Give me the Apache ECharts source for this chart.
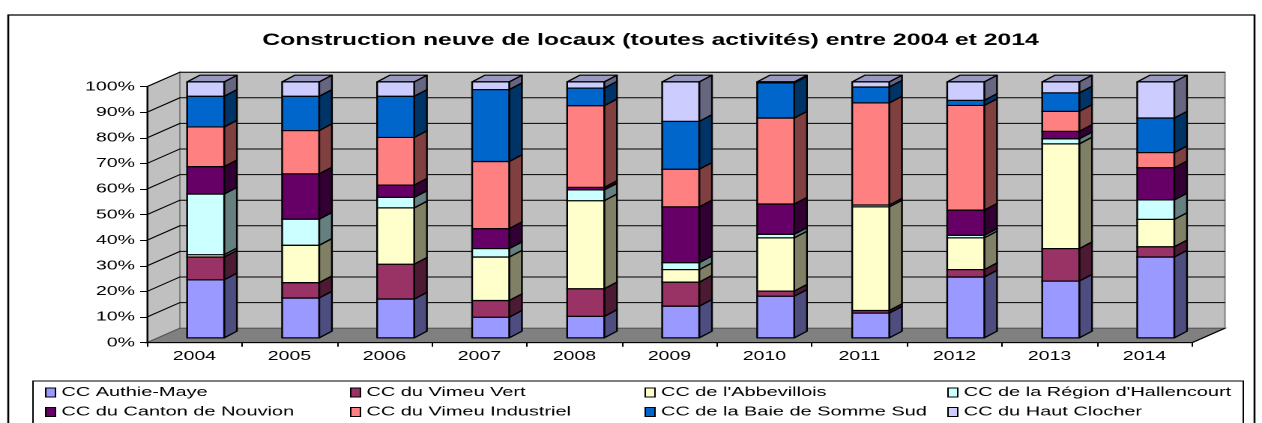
<!DOCTYPE html>
<html>
<head>
<meta charset="utf-8">
<title>Construction neuve de locaux</title>
<script src="https://cdn.jsdelivr.net/npm/echarts@6/dist/echarts.min.js"></script>
<style>
html,body{margin:0;padding:0;background:#fff;overflow:hidden;}
/* l'image d'origine est étirée horizontalement : on dessine en 842px puis on étire */
#chart{width:842px;height:423px;transform:scaleX(1.49881);transform-origin:0 0;}
</style>
</head>
<body>
<div id="chart"></div>
<script>
// données (% de la surface construite par année)
var years = ['2004','2005','2006','2007','2008','2009','2010','2011','2012','2013','2014'];
var authieMaye      = [22.7, 15.6, 15.2,  8.1,  8.4, 12.4, 16.3,  9.7, 23.8, 22.2, 31.6];
var vimeuVert       = [ 8.9,  6.0, 13.6,  6.5, 10.8,  9.4,  2.0,  1.0,  2.9, 12.7,  4.0];
var abbevillois     = [ 0.9, 14.6, 22.0, 17.0, 34.4,  4.9, 20.8, 40.5, 12.4, 40.9, 10.7];
var hallencourt     = [23.7, 10.2,  4.1,  3.3,  4.2,  2.7,  1.4,  0.7,  1.0,  2.0,  7.6];
var nouvion         = [10.7, 17.7,  4.8,  7.8,  1.0, 21.8, 11.8,  0.0,  9.8,  2.9, 12.6];
var vimeuIndustriel = [15.5, 16.9, 18.6, 26.2, 31.9, 14.7, 33.6, 39.9, 40.9,  7.8,  5.9];
var baieSommeSud    = [12.0, 13.4, 16.1, 28.1,  6.9, 18.7, 13.7,  6.2,  2.0,  7.2, 13.5];
var hautClocher     = [ 5.6,  5.6,  5.6,  3.0,  2.4, 15.4,  0.4,  2.0,  7.2,  4.3, 14.1];

var names = ['CC Authie-Maye','CC du Vimeu Vert',"CC de l'Abbevillois","CC de la Région d'Hallencourt",
             'CC du Canton de Nouvion','CC du Vimeu Industriel','CC de la Baie de Somme Sud','CC du Haut Clocher'];
var values = [authieMaye, vimeuVert, abbevillois, hallencourt, nouvion, vimeuIndustriel, baieSommeSud, hautClocher];
var colors = ['#9999FF','#993366','#FFFFCC','#CCFFFF','#660066','#FF8080','#0066CC','#CCCCFF'];
var yTicks = [0,10,20,30,40,50,60,70,80,90,100];

var FONT = "'Liberation Sans', Arial, sans-serif";
// décalages de la perspective 3D
var WALL_DX = 22, WALL_DY = 14.5;   // mur du fond
var FACE_DX = 7.5, FACE_DY = 4.8;   // face avant des barres
var BAR_DX = 8.5, BAR_DY = 6.7;     // profondeur des barres
var BAR_W = 0.39;

function shade(hex, f) {
    var n = parseInt(hex.slice(1), 16);
    var r = Math.round(((n >> 16) & 255) * f), g = Math.round(((n >> 8) & 255) * f), b = Math.round((n & 255) * f);
    return 'rgb(' + r + ',' + g + ',' + b + ')';
}

// empilement en 100%
var totals = years.map(function (y, k) {
    var t = 0;
    for (var i = 0; i < values.length; i++) t += values[i][k];
    return t;
});
var bases = years.map(function () { return 0; });
var stacked = values.map(function (arr) {
    return arr.map(function (v, k) {
        var p = v / totals[k] * 100;
        var item = [k, bases[k], bases[k] + p];
        bases[k] += p;
        return item;
    });
});

var myChart = echarts.init(document.getElementById('chart'), null, {devicePixelRatio: 2});

function renderWalls(params, api) {
    var cs = params.coordSys;
    var x0 = cs.x, x1 = cs.x + cs.width, yTop = cs.y, yBot = cs.y + cs.height;
    var children = [];
    children.push({type: 'polygon', shape: {points: [[x0, yTop], [x0 + WALL_DX, yTop - WALL_DY], [x0 + WALL_DX, yBot - WALL_DY], [x0, yBot]]},
        style: {fill: '#C0C0C0', stroke: '#808080', lineWidth: 1}});
    children.push({type: 'rect', shape: {x: x0 + WALL_DX, y: yTop - WALL_DY, width: cs.width, height: cs.height},
        style: {fill: '#C0C0C0', stroke: '#808080', lineWidth: 1}});
    children.push({type: 'polygon', shape: {points: [[x0, yBot], [x0 + WALL_DX, yBot - WALL_DY], [x1 + WALL_DX, yBot - WALL_DY], [x1, yBot]]},
        style: {fill: '#808080', stroke: '#555', lineWidth: 1}});
    children.push({type: 'line', shape: {x1: x1, y1: yBot, x2: x1 + WALL_DX, y2: yBot - WALL_DY}, style: {stroke: '#000', lineWidth: 1}});
    for (var i = 1; i < yTicks.length; i++) {
        var y = api.coord([0, yTicks[i]])[1];
        children.push({type: 'polyline', shape: {points: [[x0, y], [x0 + WALL_DX, y - WALL_DY], [x1 + WALL_DX, y - WALL_DY]]},
            style: {stroke: '#000', lineWidth: 1, fill: null}});
    }
    return {type: 'group', children: children};
}

function makeBarRenderer(color) {
    var side = shade(color, 0.5), top = shade(color, 0.75);
    return function (params, api) {
        var b = api.value(1), t = api.value(2);
        if (t - b <= 0) return;
        var p0 = api.coord([api.value(0), b]);
        var p1 = api.coord([api.value(0), t]);
        var w = api.size([1, 0])[0] * BAR_W;
        var cx = p0[0] + FACE_DX;
        var yb = p0[1] - FACE_DY, yt = p1[1] - FACE_DY;
        var xl = cx - w / 2, xr = cx + w / 2;
        var line = {stroke: '#000', lineWidth: 1.2, lineJoin: 'round'};
        return {type: 'group', children: [
            {type: 'polygon', shape: {points: [[xr, yt], [xr + BAR_DX, yt - BAR_DY], [xr + BAR_DX, yb - BAR_DY], [xr, yb]]},
                style: echarts.util.extend({fill: side}, line)},
            {type: 'polygon', shape: {points: [[xl, yt], [xl + BAR_DX, yt - BAR_DY], [xr + BAR_DX, yt - BAR_DY], [xr, yt]]},
                style: echarts.util.extend({fill: top}, line)},
            {type: 'rect', shape: {x: xl, y: yt, width: w, height: yb - yt},
                style: echarts.util.extend({fill: color}, line)}
        ]};
    };
}

var series = [{
    type: 'custom', name: 'murs', silent: true, z: 1,
    renderItem: renderWalls, data: [[0, 0]]
}];
for (var i = 0; i < names.length; i++) {
    series.push({
        type: 'custom', name: names[i], z: 2 + i,
        itemStyle: {color: colors[i]},
        encode: {x: 0, y: [1, 2]},
        renderItem: makeBarRenderer(colors[i]),
        data: stacked[i]
    });
}

var colLeft = [30, 233.5, 430, 632];
var rowTop = [386, 405.5];
var legends = names.map(function (n, i) {
    return {
        data: [n], left: colLeft[i % 4], top: rowTop[Math.floor(i / 4)],
        orient: 'horizontal', padding: 0, itemGap: 0,
        icon: 'rect', itemWidth: 6.5, itemHeight: 9,
        itemStyle: {borderColor: '#000', borderWidth: 1},
        selectedMode: false,
        textStyle: {fontFamily: FONT, fontSize: 13.3, color: '#000', padding: [0, 0, 0, -1]}
    };
});

var option = {
    backgroundColor: '#fff',
    animation: false,
    title: {
        text: 'Construction neuve de locaux (toutes activités) entre 2004 et 2014',
        left: 429, top: 27, textAlign: 'center',
        textStyle: {fontFamily: FONT, fontSize: 16.5, fontWeight: 'bold', color: '#000'}
    },
    graphic: [
        {type: 'rect', z: -10, shape: {x: 5.5, y: 15, width: 831.5, height: 500}, style: {fill: '#fff', stroke: '#000', lineWidth: 1.3}},
        {type: 'rect', z: -5, shape: {x: 22, y: 381, width: 807.5, height: 100}, style: {fill: '#fff', stroke: '#000', lineWidth: 1}}
    ],
    legend: legends,
    grid: {left: 98, right: 46.7, top: 86.7, bottom: 80.3, containLabel: false},
    xAxis: {
        type: 'category', data: years, boundaryGap: true, z: 10,
        axisLine: {lineStyle: {color: '#000', width: 1}},
        axisTick: {show: true, length: 4, lineStyle: {color: '#000'}},
        axisLabel: {fontFamily: FONT, fontSize: 13, color: '#000', margin: 7},
        splitLine: {show: false}
    },
    yAxis: {
        type: 'value', min: 0, max: 100, interval: 10, z: 10,
        axisLine: {show: true, lineStyle: {color: '#000', width: 1}},
        axisTick: {show: true, length: 4.5, lineStyle: {color: '#000'}},
        axisLabel: {fontFamily: FONT, fontSize: 13, color: '#000', margin: 8, formatter: '{value}%'},
        splitLine: {show: false}
    },
    series: series
};
myChart.setOption(option);
</script>
</body>
</html>
